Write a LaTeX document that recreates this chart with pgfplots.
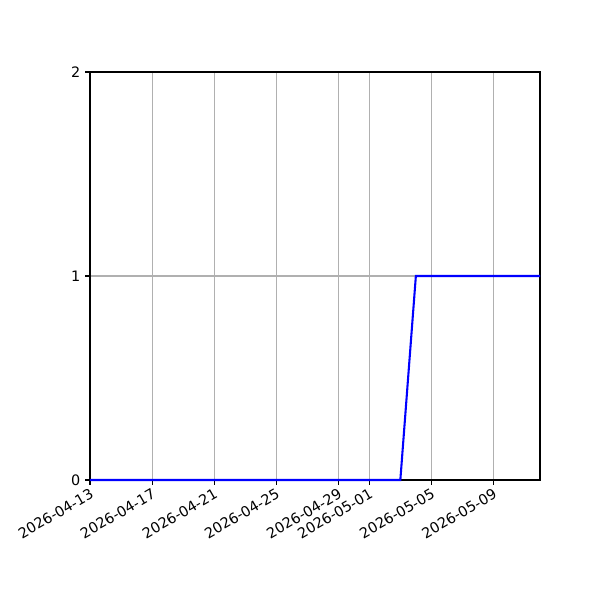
\documentclass[border=0pt]{standalone}
\usepackage{fontspec}
\setmainfont{DejaVu Sans}
\usepackage{pgfplots}
\pgfplotsset{compat=1.18}
\definecolor{gridgray}{HTML}{B0B0B0}
\begin{document}
\begin{tikzpicture}
\path[use as bounding box, fill=white] (0,0) rectangle (6in,6in);
\begin{axis}[
  at={(0.9in,1.2in)}, anchor=south west,
  width=4.5in, height=4.08in, scale only axis,
  xmin=0, xmax=29, ymin=0, ymax=2,
  xtick={0,4,8,12,16,18,22,26},
  xticklabels={2026-04-13,2026-04-17,2026-04-21,2026-04-25,2026-04-29,2026-05-01,2026-05-05,2026-05-09},
  x tick label style={rotate=30, anchor=north east, inner sep=1.5pt},
  ytick={0,1,2},
  tick label style={font=\fontsize{10.4}{12}\selectfont},
  /pgf/number format/assume math mode=true,
  xmajorgrids, ymajorgrids,
  grid style={gridgray, line width=0.8pt},
  tick align=outside, tick pos=left,
  major tick length=3.5pt,
  every tick/.style={black, line width=0.8pt},
  axis line style={line width=0.8pt},
  clip=false,
]
\addplot[color=blue, line width=1.5pt, mark=none] coordinates {
 (0,0) (1,0) (2,0) (3,0) (4,0) (5,0) (6,0) (7,0) (8,0) (9,0) (10,0)
 (11,0) (12,0) (13,0) (14,0) (15,0) (16,0) (17,0) (18,0) (19,0) (20,0)
 (21,1) (22,1) (23,1) (24,1) (25,1) (26,1) (27,1) (28,1) (29,1)
};
\end{axis}
\end{tikzpicture}
\end{document}
